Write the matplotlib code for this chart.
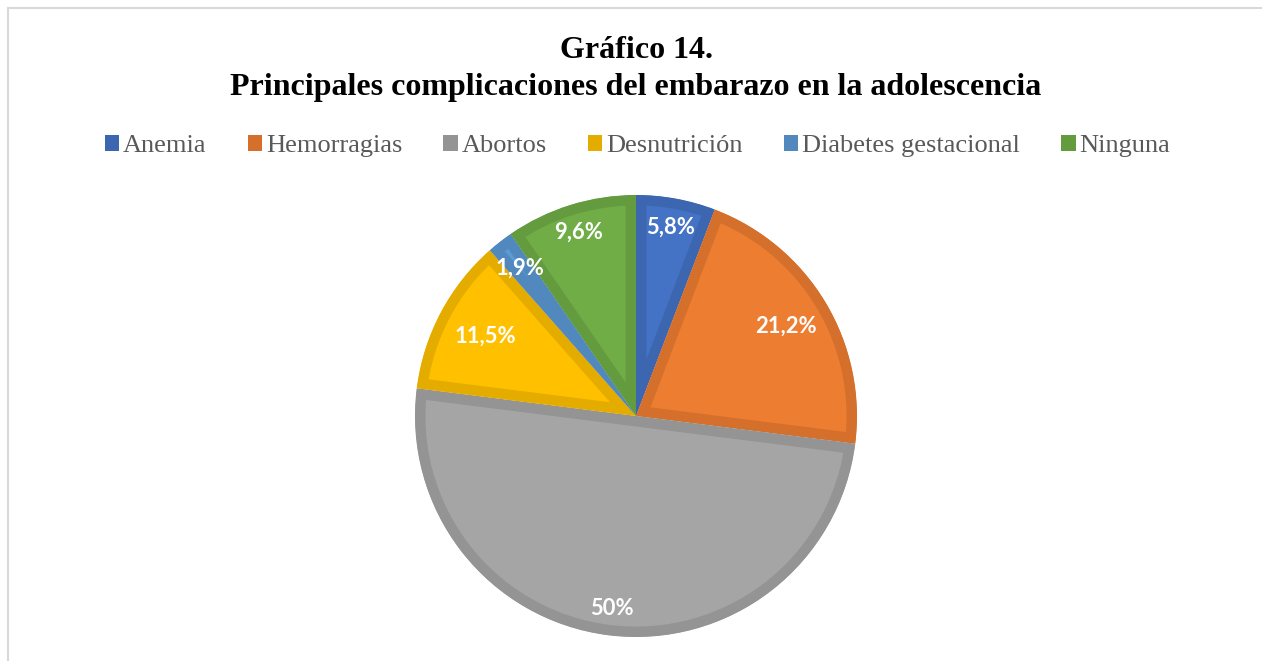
import matplotlib
matplotlib.use("Agg")
import matplotlib.pyplot as plt
from matplotlib.patches import Rectangle, Patch
import numpy as np

categories = ["Anemia", "Hemorragias", "Abortos", "Desnutrición", "Diabetes gestacional", "Ninguna"]
values = [5.8, 21.2, 50.0, 11.5, 1.9, 9.6]
value_labels = ["5,8%", "21,2%", "50%", "11,5%", "1,9%", "9,6%"]

fill_colors = ["#4472C4", "#ED7D31", "#A5A5A5", "#FFC000", "#5B9BD5", "#70AD47"]
edge_colors = ["#3D66B0", "#D4702C", "#949494", "#E5AC00", "#5189BF", "#649B3F"]
label_dist = [0.87, 0.79, 0.88, 0.77, 0.85, 0.87]

W, H = 1262, 661
fig = plt.figure(figsize=(W / 100, H / 100), dpi=100)
fig.patch.set_facecolor("white")

# frame
fig.add_artist(Rectangle((8 / W, -0.1), 1.2, (1 - 8 / H) + 0.1, transform=fig.transFigure,
                         fill=False, edgecolor="#D9D9D9", linewidth=1.5))

cx, cy, R = 636, 416, 221
ax = fig.add_axes([(cx - R) / W, (H - cy - R) / H, 2 * R / W, 2 * R / H])
wedges, _ = ax.pie(values, colors=fill_colors, startangle=90, counterclock=False,
                   radius=1.0, wedgeprops=dict(linewidth=15, antialiased=True))
for w, ec in zip(wedges, edge_colors):
    w.set_edgecolor(ec)
    w.set_clip_on(True)
    w.set_clip_path(w)
ax.set_xlim(-1, 1)
ax.set_ylim(-1, 1)
ax.set_aspect("equal")
ax.axis("off")

total = sum(values)
start = 90.0
for v, lab, d in zip(values, value_labels, label_dist):
    span = v / total * 360.0
    mid = np.deg2rad(start - span / 2)
    start -= span
    ax.text(d * np.cos(mid), d * np.sin(mid), lab, ha="center", va="center",
            color="white", fontsize=15.8, fontweight="bold", family="Lato")

fig.text(cx / W, 1 - 50 / H, "Gráfico 14.", ha="center", va="center",
         fontsize=23, fontweight="bold", family="Liberation Serif", color="black")
fig.text(cx / W, 1 - 88 / H, "Principales complicaciones del embarazo en la adolescencia",
         ha="center", va="center", fontsize=23, fontweight="bold",
         family="Liberation Serif", color="black")

handles = [Patch(facecolor=c, edgecolor="none") for c in edge_colors]
leg = fig.legend(handles, categories, ncol=6, loc="center",
                 bbox_to_anchor=(637.5 / W, 1 - 146 / H), frameon=False,
                 prop=dict(family="Liberation Serif", size=19),
                 handlelength=0.55, handleheight=0.55, handletextpad=0.15,
                 columnspacing=1.55, labelcolor="#595959")

fig.savefig("out.png", dpi=100, facecolor="white")
